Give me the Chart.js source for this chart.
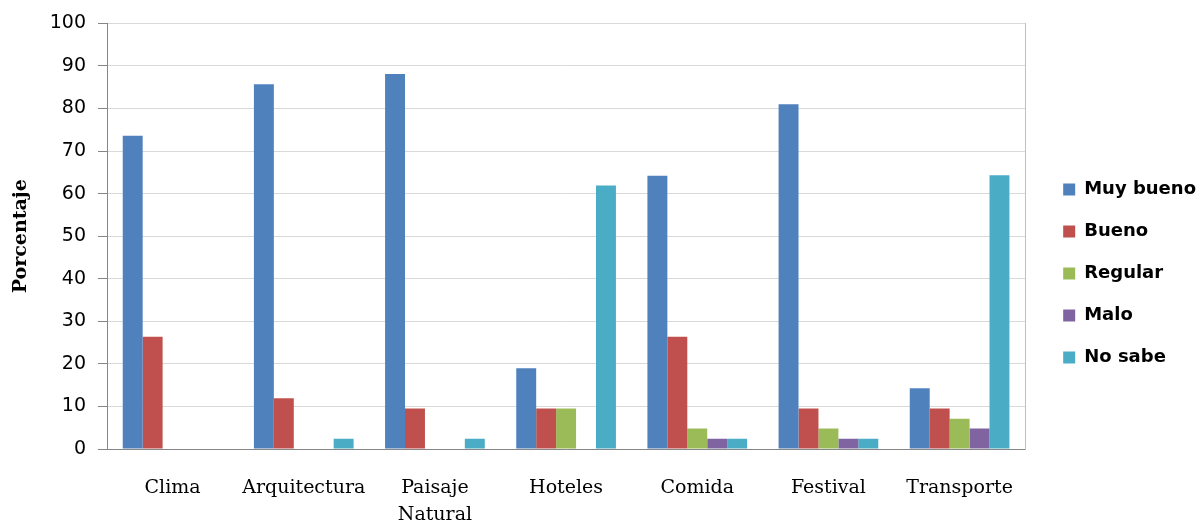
<!DOCTYPE html>
<html>
<head>
<meta charset="utf-8">
<script src="https://cdn.jsdelivr.net/npm/chart.js@4"></script>
<style>
  html, body { margin: 0; padding: 0; background: #fff; }
  #wrap { width: 1196px; height: 525px; }
</style>
</head>
<body>
<div id="wrap"><canvas id="chart" width="1196" height="525"></canvas></div>
<script>
const categories = ["Clima", "Arquitectura", ["Paisaje", "Natural"], "Hoteles", "Comida", "Festival", "Transporte"];
const muyBueno = [73.6, 85.7, 88.1, 19.0, 64.2, 81.0, 14.3];
const bueno    = [26.4, 11.9, 9.5, 9.5, 26.4, 9.5, 9.5];
const regular  = [0, 0, 0, 9.5, 4.8, 4.8, 7.1];
const malo     = [0, 0, 0, 0, 2.4, 2.4, 4.8];
const noSabe   = [0, 2.4, 2.4, 61.9, 2.4, 2.4, 64.3];
const yTicks = [0, 10, 20, 30, 40, 50, 60, 70, 80, 90, 100];

function series(label, data, color) {
    return {
        label: label,
        data: data,
        backgroundColor: color,
        borderWidth: 0,
        categoryPercentage: 0.76,
        barPercentage: 1.0
    };
}

let ctx = document.getElementById("chart").getContext("2d");

new Chart(ctx, {
    type: "bar",
    data: {
        labels: categories,
        datasets: [
            series("Muy bueno", muyBueno, "#4F81BD"),
            series("Bueno", bueno, "#C0504D"),
            series("Regular", regular, "#9BBB59"),
            series("Malo", malo, "#8064A2"),
            series("No sabe", noSabe, "#4BACC6")
        ]
    },
    options: {
        responsive: false,
        animation: false,
        // negative right padding cancels the legend's fixed 10px trailing gap
        layout: { padding: { top: 22, right: -10, bottom: 0, left: 0 } },
        plugins: {
            tooltip: { enabled: false },
            legend: {
                position: "right",
                align: "center",
                labels: {
                    boxWidth: 12,
                    boxHeight: 12,
                    padding: 24,
                    color: "#000",
                    font: { family: "DejaVu Sans", size: 18, weight: "bold" }
                }
            }
        },
        scales: {
            x: {
                grid: { display: false },
                border: { display: true, color: "#868686" },
                ticks: {
                    color: "#000",
                    padding: 18,
                    maxRotation: 0,
                    autoSkip: false,
                    font: { family: "DejaVu Serif", size: 19, lineHeight: 1.4 }
                },
                afterFit: function (scale) { scale.height = 76; }
            },
            y: {
                min: 0,
                max: 100,
                afterBuildTicks: function (scale) {
                    scale.ticks = yTicks.map(v => ({ value: v }));
                },
                grid: { color: "#d9d9d9", tickColor: "#868686", tickLength: 9 },
                border: { display: true, color: "#868686" },
                ticks: {
                    color: "#000",
                    padding: 12,
                    font: { family: "DejaVu Sans", size: 19 }
                },
                title: {
                    display: true,
                    text: "Porcentaje",
                    color: "#000",
                    padding: { top: 10, bottom: 0 },
                    font: { family: "DejaVu Serif", size: 19, weight: "bold" }
                },
                afterFit: function (scale) { scale.width = 107; }
            },
            y2: {
                position: "right",
                min: 0,
                max: 100,
                grid: { drawOnChartArea: false, drawTicks: false },
                border: { display: true, color: "#bfbfbf" },
                ticks: { display: false },
                afterFit: function (scale) { scale.width = 14; }
            }
        }
    }
});
</script>
</body>
</html>
